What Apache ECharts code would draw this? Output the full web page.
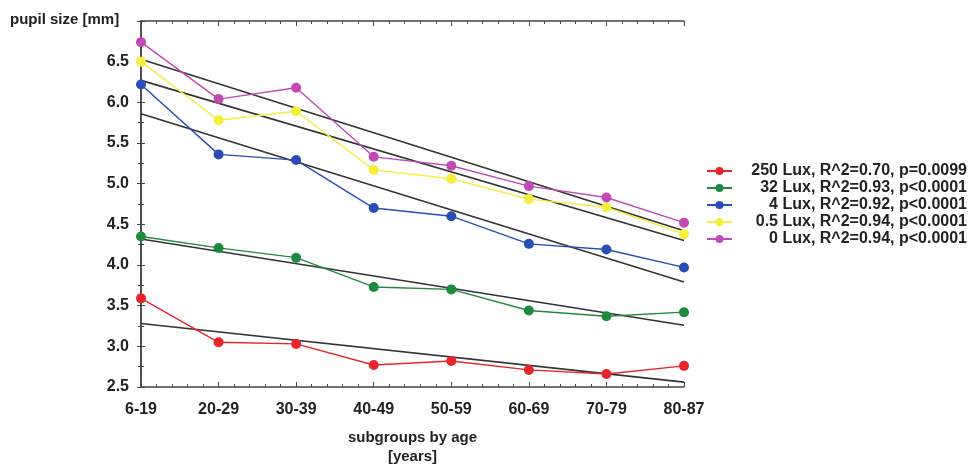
<!DOCTYPE html>
<html>
<head>
<meta charset="utf-8">
<script src="https://cdn.jsdelivr.net/npm/echarts@6/dist/echarts.min.js"></script>
<style>
  html, body { margin: 0; padding: 0; background: #fff; }
  #chart { width: 969px; height: 466px; }
</style>
</head>
<body>
<div id="chart"></div>
<script>
var categories = ["6-19", "20-29", "30-39", "40-49", "50-59", "60-69", "70-79", "80-87"];
var seriesNames = [
  "250 Lux, R^2=0.70, p=0.0099",
  "32 Lux, R^2=0.93, p<0.0001",
  "4 Lux, R^2=0.92, p<0.0001",
  "0.5 Lux, R^2=0.94, p<0.0001",
  "0 Lux, R^2=0.94, p<0.0001"
];
var lux250 = [3.59, 3.05, 3.03, 2.77, 2.82, 2.71, 2.66, 2.76];
var lux32 = [4.35, 4.21, 4.09, 3.73, 3.70, 3.44, 3.37, 3.42];
var lux4 = [6.22, 5.36, 5.29, 4.70, 4.60, 4.26, 4.19, 3.97];
var lux05 = [6.50, 5.78, 5.89, 5.17, 5.06, 4.81, 4.71, 4.38];
var lux0 = [6.74, 6.04, 6.18, 5.33, 5.22, 4.97, 4.83, 4.52];
// regression line ends (first group, last group)
var trendStart = [3.28, 4.32, 5.86, 6.27, 6.53];
var trendEnd = [2.56, 3.26, 3.79, 4.30, 4.42];
var colors = ["#e8252b", "#1e8a3e", "#2a4db3", "#f4ee3c", "#c14ab4"];

var values = [lux250, lux32, lux4, lux05, lux0];
var font = "'Liberation Sans', Arial, sans-serif";

var myChart = echarts.init(document.getElementById("chart"));

var series = [];
for (var i = 0; i < values.length; i++) {
  series.push({
    name: "trend" + i,
    type: "line",
    data: [[0, trendStart[i]], [categories.length - 1, trendEnd[i]]],
    symbol: "none",
    silent: true,
    z: 1,
    lineStyle: { color: "#333", width: 1.6 },
  });
}
for (var i = 0; i < values.length; i++) {
  series.push({
    name: seriesNames[i],
    type: "line",
    data: values[i].map(function (v, k) { return [k, v]; }),
    symbol: "circle",
    symbolSize: 10,
    z: 3,
    itemStyle: { color: colors[i] },
    lineStyle: { color: colors[i], width: 1.4 },
  });
}

var axisLineStyle = { color: "#444", width: 1.5 };

var option = {
  animation: false,
  backgroundColor: "#fff",
  textStyle: { fontFamily: font },
  grid: { left: 141, right: 285, top: 21, bottom: 79, outerBoundsMode: "none", containLabel: false },
  graphic: [
    {
      type: "text",
      left: 10,
      top: 12,
      style: { text: "pupil size [mm]", font: "bold 15px " + font, fill: "#222" },
    },
  ],
  legend: {
    data: seriesNames,
    orient: "vertical",
    left: 701,
    top: 158,
    itemWidth: 25,
    itemHeight: 10,
    itemGap: 1,
    formatter: function (name) { return "{a|" + name + "}"; },
    textStyle: {
      fontFamily: font,
      rich: {
        a: { width: 230, align: "right", fontSize: 16, fontWeight: "bold", color: "#222", lineHeight: 16 },
      },
    },
  },
  xAxis: [
    {
      type: "value",
      position: "bottom",
      min: 0,
      max: categories.length - 1,
      interval: 1,
      name: "subgroups by age\n[years]",
      nameLocation: "middle",
      nameGap: 41,
      nameTextStyle: { fontWeight: "bold", fontSize: 15, color: "#222", lineHeight: 19 },
      axisLine: { lineStyle: axisLineStyle },
      axisTick: { inside: true, length: 5, lineStyle: { color: "#444" } },
      minorTick: { show: true, splitNumber: 5, length: 3, lineStyle: { color: "#444" } },
      splitLine: { show: false },
      axisLabel: {
        margin: 15,
        fontWeight: "bold",
        fontSize: 16,
        color: "#222",
        formatter: function (v) { return categories[v]; },
      },
    },
    {
      type: "value",
      position: "top",
      min: 0,
      max: categories.length - 1,
      interval: 1,
      axisLine: { lineStyle: axisLineStyle },
      axisTick: { inside: true, length: 5, lineStyle: { color: "#444" } },
      minorTick: { show: true, splitNumber: 5, length: 3, lineStyle: { color: "#444" } },
      splitLine: { show: false },
      axisLabel: { show: false },
    },
  ],
  yAxis: [
    {
      type: "value",
      position: "left",
      min: 2.5,
      max: 7,
      interval: 0.5,
      axisLine: { show: true, lineStyle: axisLineStyle },
      axisTick: { show: true, length: 4, lineStyle: { color: "#444" } },
      minorTick: { show: true, splitNumber: 2, length: 3, lineStyle: { color: "#444" } },
      splitLine: { show: false },
      axisLabel: {
        margin: 12,
        fontWeight: "bold",
        fontSize: 16,
        color: "#222",
        formatter: function (v) { return v >= 7 ? "" : v.toFixed(1); },
      },
    },
    {
      type: "value",
      position: "right",
      min: 2.5,
      max: 7,
      interval: 0.5,
      axisLine: { show: true, lineStyle: axisLineStyle },
      axisTick: { show: true, length: 4, lineStyle: { color: "#444" } },
      minorTick: { show: true, splitNumber: 2, length: 3, lineStyle: { color: "#444" } },
      splitLine: { show: false },
      axisLabel: { show: false },
    },
  ],
  series: series,
};
myChart.setOption(option);
</script>
</body>
</html>
